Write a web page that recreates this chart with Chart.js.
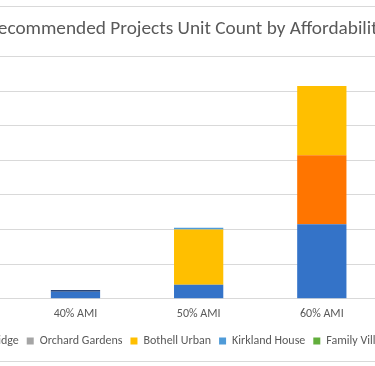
<!DOCTYPE html>
<html>
<head>
<meta charset="utf-8">
<script src="https://cdn.jsdelivr.net/npm/chart.js@4.4.1/dist/chart.umd.min.js"></script>
<style>
  html, body { margin: 0; padding: 0; background: #fff; overflow: hidden; }
  #wrap { position: relative; width: 375px; height: 366px; overflow: hidden; }
  #chart { position: absolute; top: 0; }
</style>
</head>
<body>
<div id="wrap"><canvas id="chart"></canvas></div>
<script>
// data (units, 20 per gridline)
const categories = ['40% AMI', '50% AMI', '60% AMI'];
const totem = [4, 8, 43];
const lakeRidge = [0, 0, 40];
const orchardGardens = [0, 0, 0];
const bothellUrban = [0, 32, 40];
const kirklandHouse = [0, 1, 0];
const familyVillage = [0, 0, 0];
const woodinville = [1, 0, 0];
const yMin = 0, yMax = 140, yStep = 20;

// the picture is a crop of a wider chart, so the canvas hangs off the left edge
const offsetLeft = 220;
const canvasW = 2 * (187 + offsetLeft);
const plotLeft = 13.9 + offsetLeft;
const plotRight = 383.4 + offsetLeft;

const canvas = document.getElementById('chart');
canvas.width = canvasW;
canvas.height = 366;
canvas.style.left = -offsetLeft + 'px';

const font = 'Calibri, Carlito, Lato, sans-serif';
const grey = '#595959';

const chartBorder = {
    id: 'chartBorder',
    beforeDraw(chart) {
        const ctx = chart.ctx;
        ctx.save();
        ctx.fillStyle = '#fff';
        ctx.fillRect(0, 0, chart.width, chart.height);
        ctx.strokeStyle = '#D9D9D9';
        ctx.lineWidth = 1;
        ctx.beginPath();
        ctx.moveTo(0, 6.5); ctx.lineTo(chart.width, 6.5);
        ctx.moveTo(0, 361.5); ctx.lineTo(chart.width, 361.5);
        ctx.stroke();
        ctx.restore();
    }
};

function series(label, data, color) {
    return { label: label, data: data, backgroundColor: color, borderWidth: 0 };
}

new Chart(canvas, {
    type: 'bar',
    data: {
        labels: categories,
        datasets: [
            series('Totem', totem, '#3473C8'),
            series('Lake Ridge', lakeRidge, '#FF7500'),
            series('Orchard Gardens', orchardGardens, '#A5A5A5'),
            series('Bothell Urban', bothellUrban, '#FFBF00'),
            series('Kirkland House', kirklandHouse, '#4F9BD8'),
            series('Family Village', familyVillage, '#62AE3C'),
            series('Woodinville', woodinville, '#264478')
        ]
    },
    options: {
        responsive: false,
        animation: false,
        layout: { padding: { top: 0, bottom: 9, left: 0, right: 0 } },
        datasets: { bar: { categoryPercentage: 1, barPercentage: 0.4 } },
        plugins: {
            title: {
                display: true,
                text: 'Recommended Projects Unit Count by Affordability',
                color: grey,
                font: { family: font, size: 19.3, weight: 'normal', lineHeight: 1.2 },
                padding: { top: 17.4, bottom: 16 }
            },
            legend: {
                position: 'bottom',
                labels: {
                    color: grey,
                    font: { family: font, size: 12 },
                    boxWidth: 7,
                    boxHeight: 7,
                    padding: 8
                }
            },
            tooltip: { enabled: false }
        },
        scales: {
            x: {
                stacked: true,
                grid: { display: false, drawTicks: false },
                border: { display: false },
                ticks: { color: grey, font: { family: font, size: 12 }, padding: 8 },
                afterFit: s => { s.height = 28.3; }
            },
            y: {
                stacked: true,
                min: yMin,
                max: yMax,
                ticks: { display: false, stepSize: yStep },
                grid: { color: '#D9D9D9', drawTicks: true, tickLength: plotLeft },
                border: { display: false },
                afterFit: s => { s.width = plotLeft; }
            },
            pad: {
                position: 'right',
                display: true,
                grid: { display: false },
                ticks: { display: false },
                border: { display: false },
                afterFit: s => { s.width = canvasW - plotRight; }
            }
        }
    },
    plugins: [chartBorder]
});
</script>
</body>
</html>
